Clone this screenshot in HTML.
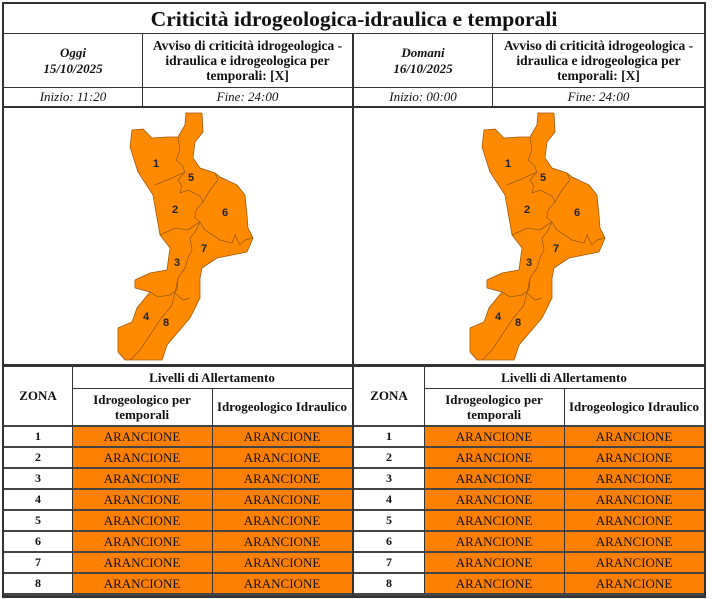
<!DOCTYPE html>
<html><head><meta charset="utf-8"><style>
body{margin:0;width:712px;height:599px;background:#fff;position:relative;font-family:"Liberation Serif",serif;color:#111;overflow:hidden}
.a{position:absolute;box-sizing:border-box}
.h{position:absolute;background:#333}
.c{position:absolute;display:flex;align-items:center;justify-content:center;text-align:center;box-sizing:border-box}
.b{font-weight:bold}
.i{font-style:italic}
.o{background:#ff8000;font-size:13px}
</style></head><body>
<div class="h" style="left:2px;top:2px;width:704px;height:2px"></div>
<div class="h" style="left:2px;top:2px;width:2px;height:596px"></div>
<div class="h" style="left:704px;top:2px;width:2px;height:596px"></div>
<div class="h" style="left:2px;top:596px;width:704px;height:2px"></div>
<div class="c b" style="left:4px;top:4px;width:700px;height:30px;font-size:21.6px">Criticità idrogeologica-idraulica e temporali</div>
<div class="h" style="left:2px;top:33px;width:704px;height:1px"></div>
<div class="h" style="left:2px;top:87px;width:704px;height:1px"></div>
<div class="h" style="left:2px;top:106px;width:704px;height:2px"></div>
<div class="h" style="left:2px;top:364px;width:704px;height:3px"></div>
<div class="h" style="left:142px;top:34px;width:1px;height:73px"></div>
<div class="h" style="left:352px;top:34px;width:2px;height:562px"></div>
<div class="h" style="left:492px;top:34px;width:1px;height:73px"></div>

<div class="c b i" style="left:4px;top:34px;width:138px;height:53px;font-size:13px;line-height:16px">Oggi<br>15/10/2025</div>
<div class="c b" style="left:143px;top:34px;width:209px;height:53px;font-size:13.5px;line-height:15px">Avviso di criticità idrogeologica -<br>idraulica e idrogeologica per<br>temporali: [X]</div>
<div class="c b i" style="left:354px;top:34px;width:138px;height:53px;font-size:13px;line-height:16px">Domani<br>16/10/2025</div>
<div class="c b" style="left:493px;top:34px;width:211px;height:53px;font-size:13.5px;line-height:15px">Avviso di criticità idrogeologica -<br>idraulica e idrogeologica per<br>temporali: [X]</div>
<div class="c i" style="left:4px;top:88px;width:138px;height:18px;font-size:13px">Inizio: 11:20</div>
<div class="c i" style="left:143px;top:88px;width:209px;height:18px;font-size:13px">Fine: 24:00</div>
<div class="c i" style="left:354px;top:88px;width:138px;height:18px;font-size:13px">Inizio: 00:00</div>
<div class="c i" style="left:493px;top:88px;width:211px;height:18px;font-size:13px">Fine: 24:00</div>

<svg class="a" style="left:0;top:0" width="712" height="599">
<defs><g id="m">
<path d="M186,113 L202,113 L203,132 L195,142 L193,158 L200,168 L215,173 L220,177 L237,185 L245,195 L247,215 L248,228 L253,238 L247,252 L217,258 L202,268 L200,278 L200,298 L190,318 L167,345 L162,360 L125,360 L118,352 L118,328 L132,322 L137,308 L150,292 L135,288 L135,280 L150,273 L167,270 L170,248 L160,235 L153,195 L138,172 L130,147 L132,130 L143,129 L152,138 L167,137 L178,137 L185,125 Z" fill="#ff8a00" stroke="#a0580a" stroke-width="0.8"/>
<g fill="none" stroke="#9a5a14" stroke-width="0.8">
<path d="M178,137 L180,150 L176,160 L182,165 L185,172 L172,178 L155,185"/>
<path d="M185,172 L178,180 L182,186 L180,193 L188,190 L200,196 L203,202 L210,190 L218,180 L215,173"/>
<path d="M203,202 L196,210 L195,218 L200,222 L205,230 L220,240 L232,243 L235,235 L240,245 L245,240 L253,238"/>
<path d="M160,235 L175,228 L188,230 L195,225 L200,222"/>
<path d="M200,222 L195,232 L190,238 L192,250 L188,258 L185,268 L178,278 L175,293 L183,300 L190,298"/>
<path d="M178,278 L177,290 L170,295 L158,297 L150,292"/>
<path d="M175,293 L172,305 L160,320 L150,335 L140,350 L130,360"/>
</g>
<g font-family="Liberation Sans,sans-serif" font-weight="bold" font-size="11" fill="#222" text-anchor="middle">
<text x="156" y="167">1</text><text x="191" y="181">5</text><text x="175" y="213">2</text><text x="225" y="216">6</text><text x="204" y="252">7</text><text x="177" y="266">3</text><text x="146" y="320">4</text><text x="166" y="326">8</text>
</g></g></defs>
<use href="#m"/>
<use href="#m" transform="translate(352,0)"/>
</svg>

<div id="t"></div>
<script>
var h='';
function tbl(x0,w0,w1,w2){
 var x1=x0+w0,x2=x1+w1,x3=x2+w2;
 h+='<div class="c b" style="left:'+x0+'px;top:367px;width:'+w0+'px;height:58px;font-size:13px">ZONA</div>';
 h+='<div class="c b" style="left:'+x1+'px;top:367px;width:'+(w1+w2)+'px;height:21px;font-size:13px">Livelli di Allertamento</div>';
 h+='<div class="c b" style="left:'+x1+'px;top:389px;width:'+w1+'px;height:36px;font-size:13px;line-height:15px">Idrogeologico per<br>temporali</div>';
 h+='<div class="c b" style="left:'+x2+'px;top:389px;width:'+w2+'px;height:36px;font-size:13px">Idrogeologico Idraulico</div>';
 h+='<div class="h" style="left:'+x1+'px;top:388px;width:'+(w1+w2)+'px;height:1px"></div>';
 for(var r=0;r<8;r++){var y=425+r*21;
  h+='<div class="h" style="left:'+x0+'px;top:'+y+'px;width:'+(w0+w1+w2)+'px;height:2px;background:#444"></div>';
  h+='<div class="c b" style="left:'+x0+'px;top:'+(y+2)+'px;width:'+w0+'px;height:19px;font-size:12px">'+(r+1)+'</div>';
  h+='<div class="c o" style="left:'+x1+'px;top:'+(y+2)+'px;width:'+w1+'px;height:19px">ARANCIONE</div>';
  h+='<div class="c o" style="left:'+x2+'px;top:'+(y+2)+'px;width:'+w2+'px;height:19px">ARANCIONE</div>';
 }
 h+='<div class="h" style="left:'+x1+'px;top:367px;width:1px;height:229px"></div>';
 h+='<div class="h" style="left:'+x2+'px;top:388px;width:1px;height:208px"></div>';
 h+='<div class="h" style="left:'+x0+'px;top:593px;width:'+(w0+w1+w2)+'px;height:3px;background:#444"></div>';
}
tbl(4,68,140,140);
tbl(354,70,140,140);
document.getElementById('t').innerHTML=h;
</script>
</body></html>
